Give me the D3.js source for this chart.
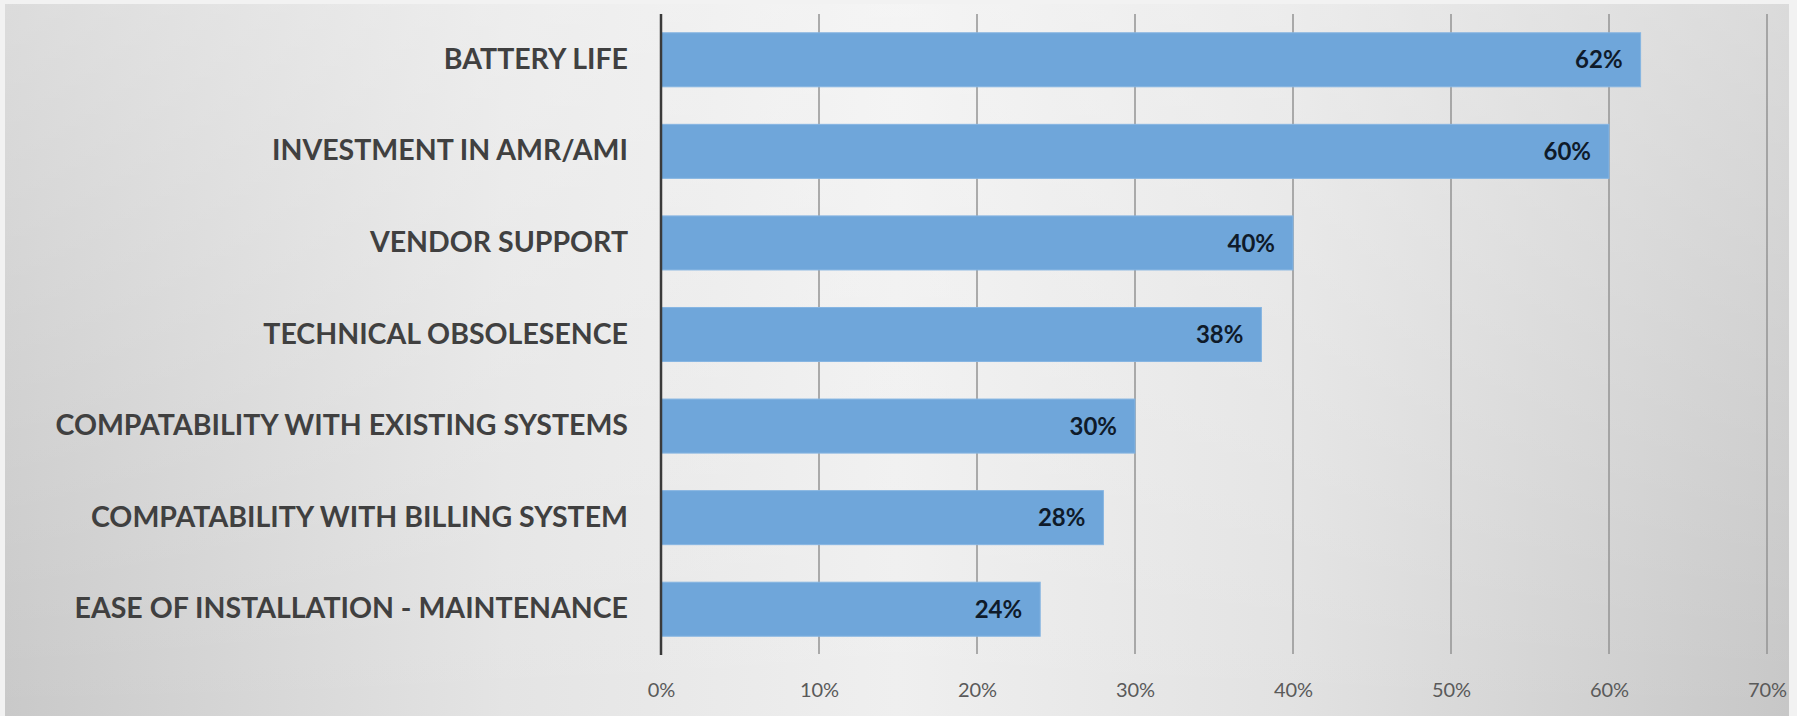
<!DOCTYPE html>
<html>
<head>
<meta charset="utf-8">
<script src="https://cdn.jsdelivr.net/npm/d3@7"></script>
<style>
  html, body { margin: 0; padding: 0; background: #f2f2f2; }
  svg { display: block; }
</style>
</head>
<body>
<div id="chart"></div>
<script>
var svgWidth = 1797;
var svgHeight = 716;

// Chart data
var categories = [
    "BATTERY LIFE",
    "INVESTMENT IN AMR/AMI",
    "VENDOR SUPPORT",
    "TECHNICAL OBSOLESENCE",
    "COMPATABILITY WITH EXISTING SYSTEMS",
    "COMPATABILITY WITH BILLING SYSTEM",
    "EASE OF INSTALLATION - MAINTENANCE"
];
var values = [62, 60, 40, 38, 30, 28, 24];
var tickValues = [0, 10, 20, 30, 40, 50, 60, 70];

var plot = { left: 661, right: 1767, top: 14, bottom: 655 };

var svg = d3.select("#chart")
    .append("svg")
    .attr("width", svgWidth)
    .attr("height", svgHeight);

// background panel: horizontal shading, lighter towards the top
var defs = svg.append("defs");
var hGrad = defs.append("linearGradient")
    .attr("id", "bgH")
    .attr("x1", 0).attr("x2", 1).attr("y1", 0).attr("y2", 0);
[["0", "#c9c9c9"], ["0.28", "#e4e4e4"], ["0.5", "#efefef"], ["0.72", "#e2e2e2"], ["1", "#c7c7c7"]]
    .forEach(function(s) {
        hGrad.append("stop").attr("offset", s[0]).attr("stop-color", s[1]);
    });
var vGrad = defs.append("linearGradient")
    .attr("id", "bgV")
    .attr("x1", 0).attr("x2", 0).attr("y1", 0).attr("y2", 1);
vGrad.append("stop").attr("offset", "0").attr("stop-color", "#ffffff").attr("stop-opacity", 0.35);
vGrad.append("stop").attr("offset", "1").attr("stop-color", "#ffffff").attr("stop-opacity", 0);

svg.append("rect")
    .attr("width", svgWidth)
    .attr("height", svgHeight)
    .attr("fill", "#f2f2f2");

svg.append("rect")
    .attr("x", 5)
    .attr("y", 4)
    .attr("width", 1784)
    .attr("height", svgHeight - 4)
    .attr("fill", "url(#bgH)");

svg.append("rect")
    .attr("x", 5)
    .attr("y", 4)
    .attr("width", 1784)
    .attr("height", svgHeight - 4)
    .attr("fill", "url(#bgV)");

// scales
var x = d3.scaleLinear()
    .domain([0, 70])
    .range([plot.left, plot.right]);

var y = d3.scaleBand()
    .domain(categories)
    .range([plot.top, plot.bottom])
    .paddingInner(0.41)
    .paddingOuter(0.205);

// vertical gridlines
svg.append("g")
    .selectAll("line")
    .data(tickValues.slice(1))
    .enter()
    .append("line")
    .attr("x1", d => x(d))
    .attr("x2", d => x(d))
    .attr("y1", plot.top)
    .attr("y2", plot.bottom - 1)
    .attr("stroke", "#939393")
    .attr("stroke-width", 1.5);

// bars
svg.append("g")
    .selectAll("rect")
    .data(values)
    .enter()
    .append("rect")
    .attr("x", x(0))
    .attr("y", (d, i) => y(categories[i]))
    .attr("width", d => x(d) - x(0))
    .attr("height", y.bandwidth())
    .attr("fill", "#6fa6da")
    .attr("stroke", "#86b5e2")
    .attr("stroke-width", 1);

// value labels inside bar ends
svg.append("g")
    .selectAll("text")
    .data(values)
    .enter()
    .append("text")
    .attr("x", d => x(d) - 18)
    .attr("y", (d, i) => y(categories[i]) + y.bandwidth() / 2)
    .attr("dy", "0.36em")
    .attr("text-anchor", "end")
    .style("font-family", "Lato, 'Open Sans', sans-serif")
    .style("font-weight", "bold")
    .style("font-size", "24px")
    .style("fill", "#0f1b2a")
    .text(d => d + "%");

// y axis (category labels, no ticks)
var leftAxis = d3.axisLeft(y).tickSize(0).tickPadding(33);
var yAxis = svg.append("g")
    .attr("transform", `translate(${plot.left}, 0)`)
    .call(leftAxis);
yAxis.select(".domain").remove();
yAxis.selectAll("text")
    .style("font-family", "Lato, 'Open Sans', sans-serif")
    .style("font-weight", "bold")
    .style("font-size", "28.5px")
    .style("fill", "#404040");

// axis line at 0%
svg.append("line")
    .attr("x1", x(0))
    .attr("x2", x(0))
    .attr("y1", plot.top)
    .attr("y2", plot.bottom)
    .attr("stroke", "#3a3a3a")
    .attr("stroke-width", 2.5);

// x axis tick labels
var bottomAxis = d3.axisBottom(x)
    .tickValues(tickValues)
    .tickSize(0)
    .tickPadding(28)
    .tickFormat(d => d + "%");
var xAxis = svg.append("g")
    .attr("transform", `translate(0, ${plot.bottom})`)
    .call(bottomAxis);
xAxis.select(".domain").remove();
xAxis.selectAll("text")
    .style("font-family", "Lato, 'Open Sans', sans-serif")
    .style("font-size", "20px")
    .style("fill", "#5a5a5a");
</script>
</body>
</html>
